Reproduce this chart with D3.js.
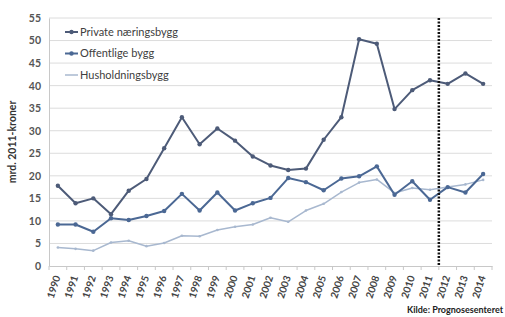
<!DOCTYPE html>
<html><head><meta charset="utf-8">
<script src="https://cdn.jsdelivr.net/npm/d3@7"></script>
<style>body{margin:0;background:#fff}svg{display:block}</style>
</head><body>
<script>
const years = ["1990","1991","1992","1993","1994","1995","1996","1997","1998","1999","2000","2001","2002","2003","2004","2005","2006","2007","2008","2009","2010","2011","2012","2013","2014"];
const privateNaering = [17.8,13.9,15.0,11.5,16.7,19.3,26.1,33.0,27.0,30.5,27.8,24.3,22.3,21.3,21.6,28.0,33.0,50.3,49.3,34.8,39.0,41.2,40.4,42.7,40.4];
const offentlige = [9.2,9.2,7.6,10.6,10.2,11.1,12.2,16.0,12.3,16.3,12.3,13.9,15.1,19.5,18.6,16.8,19.4,19.9,22.1,15.8,18.8,14.7,17.5,16.3,20.4];
const husholdning = [4.1,3.8,3.4,5.2,5.6,4.4,5.1,6.7,6.6,8.0,8.7,9.2,10.7,9.8,12.3,13.8,16.4,18.5,19.2,16.2,17.3,16.9,17.5,18.1,19.1];
const seriesNames = ["Private næringsbygg","Offentlige bygg","Husholdningsbygg"];
const yTicks = [0,5,10,15,20,25,30,35,40,45,50,55];
const forecastStart = "2012";
const yLabel = "mrd. 2011-kroner";
const source = "Kilde: Prognosesenteret";

const W=505,H=317;
const svg=d3.select("body").append("svg").attr("width",W).attr("height",H);
const font="Lato, 'Open Sans', sans-serif";
const x=d3.scaleBand().domain(years).range([49,492]);
const y=d3.scaleLinear().domain([0,55]).range([266,18]);

// gridlines
svg.append("g").selectAll("line").data(yTicks.filter(d=>d>0)).join("line")
 .attr("x1",49).attr("x2",492).attr("y1",d=>y(d)).attr("y2",d=>y(d))
 .attr("stroke","#dcdcdc").attr("stroke-width",1);

// y axis
const ya=svg.append("g").attr("transform","translate(49,0)")
 .call(d3.axisLeft(y).tickValues(yTicks).tickSize(0).tickPadding(8));
ya.select(".domain").attr("stroke","#c8c8c8");
ya.selectAll("text").attr("font-family",font).attr("font-size",10.5).attr("font-weight","bold").attr("fill","#555");

// x axis
const xa=svg.append("g").attr("transform","translate(0,266)")
 .call(d3.axisBottom(x).tickSize(0).tickPadding(0));
xa.select(".domain").attr("stroke","#c8c8c8");
xa.selectAll(".tick line").remove();
svg.append("g").selectAll("line").data(years.concat(["end"])).join("line")
 .attr("x1",(d,i)=>x.range()[0]+i*x.step()).attr("x2",(d,i)=>x.range()[0]+i*x.step())
 .attr("y1",266).attr("y2",270).attr("stroke","#c8c8c8");
xa.selectAll("text")
 .attr("font-family",font).attr("font-size",10).attr("font-weight","bold").attr("fill","#444")
 .attr("text-anchor","end").attr("dy","0.35em")
 .attr("transform",d=>`translate(0,8) rotate(-72)`).attr("x",-2).attr("y",0);

// y label
svg.append("text").attr("transform","translate(16,142) rotate(-90)")
 .attr("text-anchor","middle").attr("font-family",font).attr("font-size",10.5).attr("font-weight","bold").attr("fill","#333")
 .text(yLabel);

const series=[
 {name:seriesNames[0],vals:privateNaering,color:"#4d5b78",w:2,r:2.2},
 {name:seriesNames[1],vals:offentlige,color:"#4b6894",w:2,r:2.2},
 {name:seriesNames[2],vals:husholdning,color:"#a8b8cf",w:1.5,r:1.3}
];
const cx=d=>x(d)+x.bandwidth()/2;
const line=d3.line().x((d,i)=>cx(years[i])).y(d=>y(d));
[2,1,0].forEach(k=>{
 const s=series[k];
 svg.append("path").attr("d",line(s.vals)).attr("fill","none").attr("stroke",s.color).attr("stroke-width",s.w).attr("stroke-linejoin","round");
 svg.append("g").selectAll("circle").data(s.vals).join("circle")
  .attr("cx",(d,i)=>cx(years[i])).attr("cy",d=>y(d)).attr("r",s.r).attr("fill",s.color);
});

// forecast divider
svg.append("line").attr("x1",x(forecastStart)).attr("x2",x(forecastStart)).attr("y1",y(55)).attr("y2",y(0))
 .attr("stroke","#111").attr("stroke-width",2.5).attr("stroke-dasharray","2,1.5");

// legend
const lg=svg.append("g");
series.forEach((s,i)=>{
 const ly=32+i*21.5;
 lg.append("line").attr("x1",65).attr("x2",78).attr("y1",ly).attr("y2",ly).attr("stroke",s.color).attr("stroke-width",s.w);
 if(i<2) lg.append("circle").attr("cx",71.5).attr("cy",ly).attr("r",s.r).attr("fill",s.color);
 lg.append("text").attr("x",80).attr("y",ly).attr("dy","0.35em").attr("font-family",font).attr("font-size",11)
  .attr("fill","#404040").text(s.name);
});

// source
svg.append("text").attr("x",503).attr("y",313).attr("text-anchor","end").attr("font-family",font)
 .attr("font-size",9).attr("font-weight","bold").attr("fill","#222").text(source);
</script>
</body></html>
